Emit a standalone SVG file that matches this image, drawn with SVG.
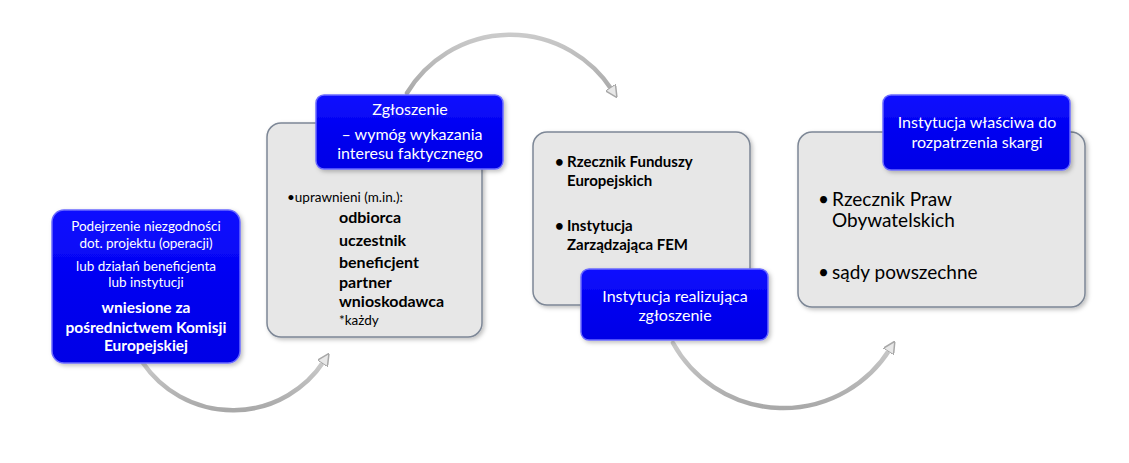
<svg xmlns="http://www.w3.org/2000/svg" width="1129" height="463" viewBox="0 0 1129 463">
<style>
.blue{fill:url(#gb);stroke:#6b6bff;stroke-width:1.5}
.grey{fill:#e7e7e7;stroke:#7d8796;stroke-width:1.5}
.t{font-family:"Lato","Liberation Sans",sans-serif;}
.w{fill:#fff}
.k{fill:#000}
.b{font-weight:bold}
.arc{fill:none;stroke:url(#ga);stroke-width:4.5;stroke-linecap:round}
</style>
<defs>
<linearGradient id="gb" x1="0" y1="0" x2="0" y2="1">
<stop offset="0" stop-color="#1010ff"/>
<stop offset="0.5" stop-color="#0000f0"/>
<stop offset="1" stop-color="#0000e6"/>
</linearGradient>
<linearGradient id="ga" x1="0" y1="0" x2="0" y2="1">
<stop offset="0" stop-color="#cacaca"/>
<stop offset="1" stop-color="#a9a9a9"/>
</linearGradient>
<filter id="sh" x="-10%" y="-10%" width="130%" height="130%">
<feDropShadow dx="2" dy="2" stdDeviation="2" flood-color="#000" flood-opacity="0.25"/>
</filter>
<marker id="ah" viewBox="0 0 12 12" refX="3" refY="6" markerWidth="2.7" markerHeight="2.7" orient="auto" markerUnits="strokeWidth">
<path d="M0,0 L12,6 L0,12 Z" fill="#e8e8e8" stroke="#a8a8a8" stroke-width="1.5"/>
</marker>
</defs>

<g id="connectors">
<path class="arc" d="M143,363 A109,109 0 0 0 324,361" marker-end="url(#ah)"/>
<path class="arc" d="M407,93 A121,121 0 0 1 612,90" marker-end="url(#ah)"/>
<path class="arc" d="M673,343 A126,126 0 0 0 890,349" marker-end="url(#ah)"/>
</g>

<g id="node1">
<rect class="blue" x="52" y="210" width="188" height="153" rx="12" filter="url(#sh)"/>
<g class="t w" text-anchor="middle" font-size="13.5">
<text x="146" y="231">Podejrzenie niezgodności</text>
<text x="146" y="248">dot. projektu (operacji)</text>
<text x="146" y="271">lub działań beneficjenta</text>
<text x="146" y="287">lub instytucji</text>
<text x="146" y="313" class="b" font-size="15.5">wniesione za</text>
<text x="146" y="333" class="b" font-size="15.5">pośrednictwem Komisji</text>
<text x="146" y="351" class="b" font-size="15.5">Europejskiej</text>
</g>
</g>

<g id="node2">
<rect class="grey" x="267" y="123" width="215" height="214" rx="14" filter="url(#sh)"/>
<g class="t k">
<text x="287" y="202" font-size="13.5">•uprawnieni (m.in.):</text>
<text x="339" y="223" class="b" font-size="16">odbiorca</text>
<text x="339" y="246" class="b" font-size="16">uczestnik</text>
<text x="339" y="268" class="b" font-size="16">beneficjent</text>
<text x="339" y="288" class="b" font-size="16">partner</text>
<text x="339" y="307" class="b" font-size="16">wnioskodawca</text>
<text x="339" y="325" font-size="13.5">*każdy</text>
</g>
<rect class="blue" x="316" y="95" width="187" height="74" rx="8" filter="url(#sh)"/>
<g class="t w" text-anchor="middle" font-size="16">
<text x="410" y="115">Zgłoszenie</text>
<text x="412" y="140">– wymóg wykazania</text>
<text x="410" y="159">interesu faktycznego</text>
</g>
</g>

<g id="node3">
<rect class="grey" x="533" y="132" width="217" height="173" rx="14" filter="url(#sh)"/>
<g class="t k b" font-size="15">
<text x="555" y="167">•</text>
<text x="567" y="167">Rzecznik Funduszy</text>
<text x="567" y="186">Europejskich</text>
<text x="555" y="231">•</text>
<text x="567" y="231">Instytucja</text>
<text x="567" y="250">Zarządzająca FEM</text>
</g>
<rect class="blue" x="581" y="269" width="187" height="71" rx="8" filter="url(#sh)"/>
<g class="t w" text-anchor="middle" font-size="16">
<text x="675" y="302">Instytucja realizująca</text>
<text x="675" y="321">zgłoszenie</text>
</g>
</g>

<g id="node4">
<rect class="grey" x="798" y="132" width="287" height="175" rx="14" filter="url(#sh)"/>
<g class="t k" font-size="19">
<text x="818" y="206">•</text>
<text x="832" y="206">Rzecznik Praw</text>
<text x="832" y="227">Obywatelskich</text>
<text x="818" y="279">•</text>
<text x="832" y="279">sądy powszechne</text>
</g>
<rect class="blue" x="883" y="95" width="187" height="75" rx="8" filter="url(#sh)"/>
<g class="t w" text-anchor="middle" font-size="16">
<text x="977" y="128">Instytucja właściwa do</text>
<text x="977" y="148">rozpatrzenia skargi</text>
</g>
</g>
</svg>
